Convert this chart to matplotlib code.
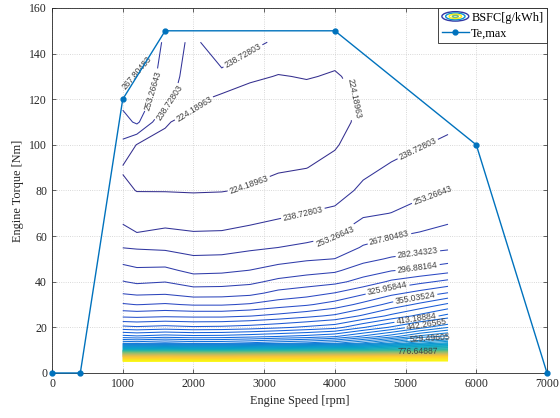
import numpy as np
import matplotlib
matplotlib.use('Agg')
import matplotlib.pyplot as plt
from matplotlib.colors import LinearSegmentedColormap
from matplotlib.patches import Polygon, Ellipse
from matplotlib.legend_handler import HandlerBase
from matplotlib.lines import Line2D

plt.rcParams['font.family'] = 'Liberation Serif'

# Map grid
speed = [1000, 1200, 1600, 2000, 2400, 2800, 3200, 3600, 4000, 4400, 4800, 5200, 5600]
torque = [5, 7, 10, 13, 16, 20, 25, 30, 35, 40, 45, 50, 55, 60, 70, 80, 90, 100, 110, 120, 130, 145]

# BSFC [g/kWh], one column per speed, rows follow `torque`
bsfc_1000 = [1265, 1100, 680, 472, 419, 374, 337, 313, 296, 283, 273, 263, 253, 245, 233, 227, 223, 236, 247, 259, 268, 280]
bsfc_1200 = [1265, 1100, 676, 470, 416, 372, 336, 311, 294, 280, 270, 261, 252, 240, 232, 223.8, 222, 223.5, 256, 262, 267, 276]
bsfc_1600 = [1268, 1105, 685, 476, 421, 375, 338, 313, 295, 282, 271, 260, 251, 243, 231, 223.8, 221, 222, 225, 244, 247, 250]
bsfc_2000 = [1265, 1100, 678, 470, 418, 372, 337, 310, 290, 276, 264, 255.5, 248, 241, 230, 223.5, 221, 219, 221, 227, 231, 234]
bsfc_2400 = [1265, 1100, 680, 471, 419, 373, 337, 310, 290.5, 276.5, 265, 256, 248.5, 241.5, 230, 223.8, 220, 216, 216, 221, 234, 253]
bsfc_2800 = [1268, 1108, 688, 476, 423, 376, 340, 313, 293, 279, 268, 259, 251, 244, 233, 225, 222, 214, 212, 217, 227, 243]
bsfc_3200 = [1268, 1115, 695, 484, 428, 381, 345, 319, 301, 286, 273, 263, 253.3, 247, 236, 228, 223, 216, 211, 216, 223.5, 236]
bsfc_3600 = [1268, 1120, 702, 490, 433, 387, 351, 324, 305, 290, 277, 266, 256, 249.5, 239, 231, 224, 219, 215, 219, 225, 231]
bsfc_4000 = [1270, 1130, 712, 500, 441, 393, 358, 332, 312, 293, 280, 268, 260, 253, 241, 234, 228, 223, 219, 218, 223, 230]
bsfc_4400 = [1270, 1140, 705, 520, 460, 412, 372, 345, 323, 302, 289.5, 278, 269, 263, 251, 241, 236, 231, 228, 227, 228, 232]
bsfc_4800 = [1270, 1150, 720, 548, 480, 430, 388, 360, 336, 314, 296, 284, 274, 267, 253.5, 246, 240, 235, 232, 230, 230, 231]
bsfc_5200 = [1270, 1155, 735, 575, 505, 451, 403, 373, 346, 322, 300, 288, 277, 270, 258, 250, 244, 238, 234, 232, 231, 231]
bsfc_5600 = [1270, 1160, 750, 595, 520, 471, 418, 387, 356, 330, 306, 291, 280, 273, 263, 253.5, 248, 241, 236, 233, 231, 230]

# full load curve
te_speed = [0, 400, 1000, 1600, 4000, 6000, 7000]
te_torque = [0, 0, 120, 150, 150, 100, 0]

# contour levels, spacing as printed on the labels
level_first = 224.18963
level_step = 14.5384011
n_levels = 72

# labelled levels (index into levels) and roughly where the labels sit
label_spots = [
    (0, 1980, 117), (0, 4240, 120), (0, 2770, 84),
    (1, 1625, 120), (1, 2700, 139), (1, 5175, 98), (1, 3540, 71),
    (2, 1415, 124), (2, 5360, 80), (2, 4020, 59),
    (3, 1260, 130), (3, 4780, 58),
    (4, 5175, 52),
    (5, 5175, 45),
    (7, 4765, 34),
    (9, 5160, 29),
    (13, 5160, 22.5),
    (15, 5310, 20),
    (21, 5345, 15.3),
    (38, 5175, 8.8),
]

# parula-like colour ramp, stretched a little at the dark end
parula = LinearSegmentedColormap.from_list('parula', [
    (0.000, (0.2081, 0.1663, 0.5292)),
    (0.100, (0.1707, 0.2919, 0.7792)),
    (0.200, (0.0591, 0.3998, 0.8800)),
    (0.300, (0.0779, 0.5200, 0.8312)),
    (0.400, (0.0265, 0.6300, 0.8000)),
    (0.500, (0.1804, 0.7223, 0.6379)),
    (0.620, (0.5301, 0.7491, 0.4464)),
    (0.750, (0.8185, 0.7327, 0.3498)),
    (0.870, (0.9956, 0.7862, 0.1968)),
    (1.000, (0.9763, 0.9831, 0.0538)),
])


class EllipseHandler(HandlerBase):
    def create_artists(self, legend, orig_handle, xdescent, ydescent,
                       width, height, fontsize, trans):
        cx = 0.5 * width - xdescent
        cy = 0.5 * height - ydescent
        arts = []
        for scale, frac in zip([1.0, 0.72, 0.46, 0.22], [0.05, 0.35, 0.97, 0.6]):
            e = Ellipse((cx, cy), width * scale, height * 1.1 * scale, fill=False,
                        edgecolor=parula(frac), linewidth=1.0, transform=trans)
            arts.append(e)
        return arts


def snap_to_level(cs, ax, idx, x, y):
    # nearest point (screen space) on the contour of level idx
    p = ax.transData.transform((x, y))
    best = None
    for poly in cs.get_paths()[idx].to_polygons(closed_only=False):
        if len(poly) < 2:
            continue
        d = ax.transData.transform(poly)
        a, b = d[:-1], d[1:]
        ab = b - a
        t = np.clip(((p - a) * ab).sum(1) / np.maximum((ab ** 2).sum(1), 1e-12), 0, 1)
        q = a + t[:, None] * ab
        dist = np.hypot(q[:, 0] - p[0], q[:, 1] - p[1])
        i = dist.argmin()
        if best is None or dist[i] < best[0]:
            best = (dist[i], q[i])
    return ax.transData.inverted().transform(best[1])


Z = np.column_stack([bsfc_1000, bsfc_1200, bsfc_1600, bsfc_2000, bsfc_2400, bsfc_2800,
                     bsfc_3200, bsfc_3600, bsfc_4000, bsfc_4400, bsfc_4800, bsfc_5200,
                     bsfc_5600])
levels = level_first + level_step * np.arange(n_levels)

fig = plt.figure(figsize=(5.6, 4.18), dpi=100)
ax = fig.add_axes([0.0929, 0.1077, 0.8839, 0.8732])
ax.set_xlim(0, 7000)
ax.set_ylim(0, 160)

cs = ax.contour(speed, torque, Z, levels=levels, cmap=parula,
                vmin=levels[0] - level_step, vmax=levels[-1] + level_step,
                linewidths=0.75)
clip = Polygon(np.column_stack([te_speed, te_torque]), closed=True,
               transform=ax.transData, facecolor='none', edgecolor='none')
cs.set_clip_path(clip)

with plt.rc_context({'font.family': 'Liberation Sans'}):
    for idx, x, y in label_spots:
        pt = snap_to_level(cs, ax, idx, x, y)
        cs.clabel(manual=[tuple(pt)], inline=True, inline_spacing=2,
                  fmt='%.5f', fontsize=6.2, colors='0.25')

te_line, = ax.plot(te_speed, te_torque, '-o', color='#0072BD', lw=1.0, ms=3.5,
                   label='Te,max', clip_on=False, zorder=5)

ax.set_xticks(np.arange(0, 7001, 1000))
ax.set_yticks(np.arange(0, 161, 20))
ax.grid(True, linestyle=':', color='0.8', linewidth=0.6)
ax.set_axisbelow(True)
ax.tick_params(direction='in', top=True, right=True, length=3, width=0.5,
               labelsize=8.5, colors='0.15')
for sp in ax.spines.values():
    sp.set_linewidth(0.6)
    sp.set_color('0.15')

ax.set_xlabel('Engine Speed [rpm]', fontsize=8.8, color='0.15')
ax.set_ylabel('Engine Torque [Nm]', fontsize=8.8, color='0.15')

proxy = Line2D([], [], label='BSFC[g/kWh]')
leg = ax.legend(handles=[proxy, te_line], loc='upper right', borderaxespad=0,
                fancybox=False, edgecolor='0.15', framealpha=1,
                prop={'family': 'Liberation Serif', 'size': 8.8},
                handler_map={proxy: EllipseHandler()}, handlelength=2.2,
                handletextpad=0.2, borderpad=0.3, labelspacing=0.3)
leg.get_frame().set_linewidth(0.6)

fig.savefig('out.png', dpi=100)
